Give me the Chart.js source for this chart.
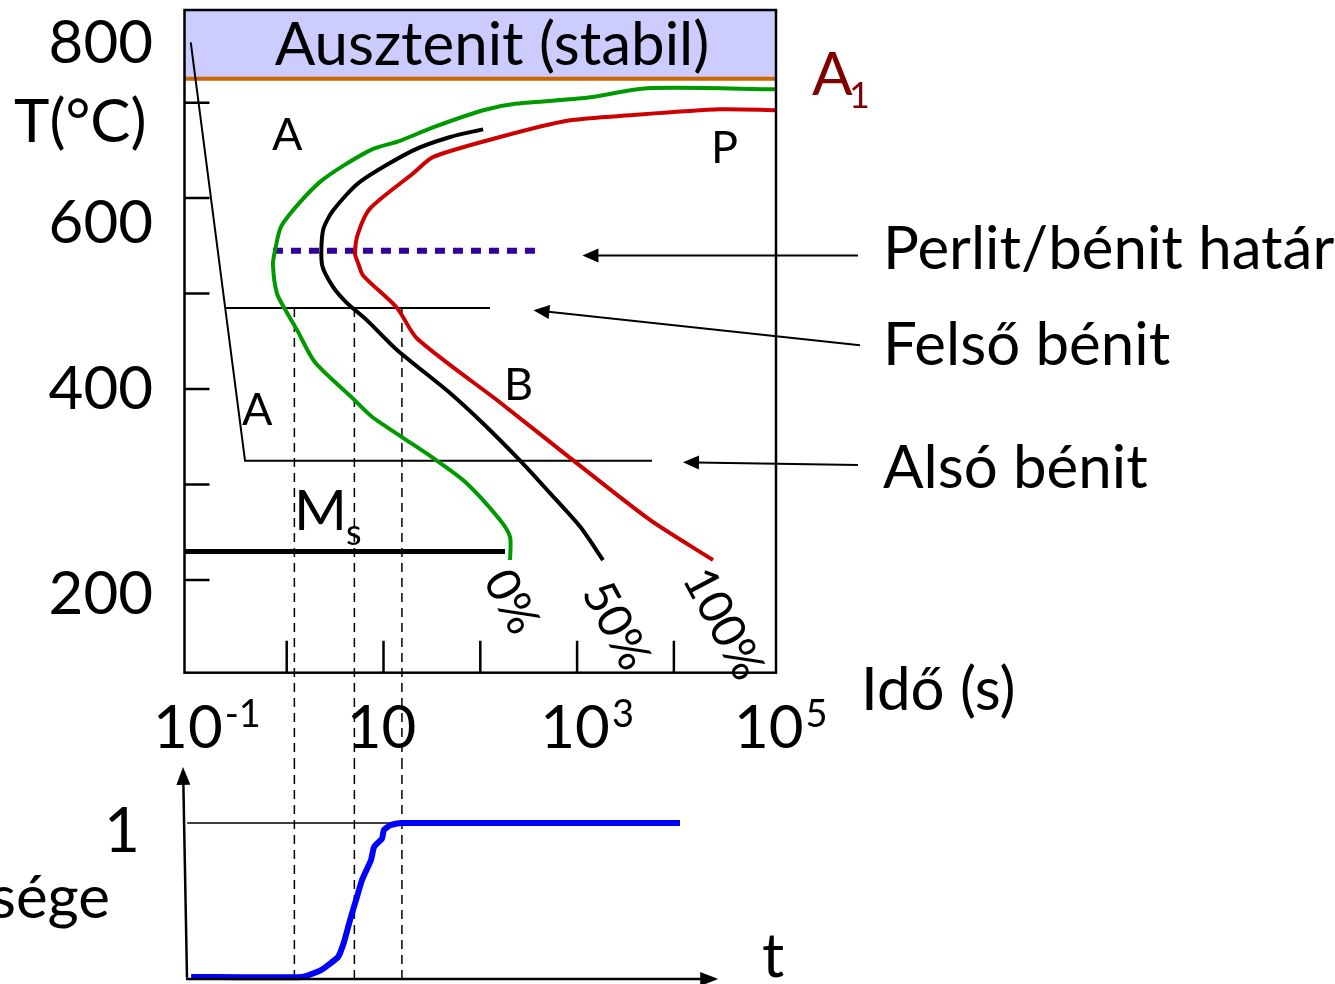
<!DOCTYPE html>
<html lang="hu">
<head>
<meta charset="utf-8">
<title>Izoterm átalakulási diagram</title>
<script src="https://cdn.jsdelivr.net/npm/chart.js@4.4.1/dist/chart.umd.min.js"></script>
<style>
  body { margin: 0; background: #fff; }
  #lap { position: relative; width: 1335px; height: 984px; overflow: hidden; }
  #lap canvas { position: absolute; left: 0; }
</style>
</head>
<body>
<div id="lap">
  <canvas id="tttDiagram" width="1335" height="760" style="top:0"></canvas>
  <canvas id="hanyadDiagram" width="1335" height="224" style="top:760px"></canvas>
</div>
<script>
// Átalakulási görbék: idő (s) és hőmérséklet (°C)
const ido0 = [115000, 5300, 1260, 239, 107, 32.4, 14.8, 7.24, 2.21, 0.893, 0.757, 0.721, 0.794, 1.007, 1.276, 1.96, 4.84, 7.60, 15.9, 32.4, 69.5, 160, 203, 203];
const hom0 = [714, 715, 705, 699, 692, 674, 660, 650, 617, 572, 545, 530, 500, 480, 462, 428, 390, 371, 349, 328, 303, 263, 245, 221];

const ido50 = [107, 48.9, 20.3, 5.71, 3.01, 2.37, 2.32, 3.01, 4.20, 6.76, 13.8, 48.6, 107, 276, 525, 1072, 1854];
const hom50 = [672, 664, 650, 617, 587, 566, 530, 507, 490, 472, 441, 396, 364, 322, 291, 256, 221];

const ido100 = [115000, 29900, 3784, 787, 160, 32.4, 20.3, 7.24, 5.46, 5.08, 5.46, 6.15, 13.8, 22.2, 160, 845, 5662, 25350];
const hom100 = [692, 693, 687, 681, 664, 643, 626, 589, 563, 542, 532, 519, 485, 453, 386, 328, 263, 221];

// Jellemző hőmérsékletek (°C)
const A1 = 725;
const Ms = 230;
const perlitBenitHatar = 545;
const felsoBenitHom = 485;

// Hűtés, majd izoterm hőntartás az alsó bénit tartományában
const hutesIdo = [0.102, 0.371, 5940];
const hutesHom = [763, 325, 325];

// Vízszintes vonalak időtartománya (s)
const felsoBenitIdo = [0.236, 126];
const msIdo = [0.081, 180];
const hatarIdo = [0.721, 368];

// Átalakulás kezdete, 50%-a és vége 485 °C-on (s)
const atalakulasIdok = [1.2, 5.0, 15.5];

// Átalakult hányad az idő függvényében
const hanyadIdo = [0.103, 1.44, 2.26, 3.39, 3.91, 4.51, 5.32, 6.00, 7.43, 7.98, 9.66, 10.1, 11.9, 15.2, 11560];
const hanyad = [0, 0, 0.045, 0.13, 0.227, 0.37, 0.52, 0.63, 0.76, 0.844, 0.90, 0.955, 0.987, 1, 1];

// Tengelyosztások és feliratok
const osztasHom = [200, 300, 400, 500, 600, 700];
const osztasIdo = [1, 10, 100, 1000, 10000];
const idoCimkek = [0.1, 10, 1000, 100000];
const homCimkek = ['800', '600', '400', '200'];

const xMin = Math.pow(10, -1.056);
const xMax = Math.pow(10, 5.055);
const BETU = 'Lato, "Open Sans", sans-serif';
const betu = m => m + 'px ' + BETU;

function vonal(xs, ys, szin, vastag, extra) {
  return Object.assign({
    data: xs.map((x, i) => ({ x: x, y: ys[i] })),
    borderColor: szin,
    borderWidth: vastag,
    pointRadius: 0,
    fill: false,
    tension: 0
  }, extra || {});
}

function nyil(ctx, x1, y1, x2, y2, hossz, szel) {
  const sz = Math.atan2(y2 - y1, x2 - x1);
  const c = Math.cos(sz), s = Math.sin(sz);
  ctx.beginPath();
  ctx.moveTo(x1, y1);
  ctx.lineTo(x2 - c * hossz * 0.8, y2 - s * hossz * 0.8);
  ctx.stroke();
  ctx.beginPath();
  ctx.moveTo(x2, y2);
  ctx.lineTo(x2 - c * hossz + s * szel, y2 - s * hossz - c * szel);
  ctx.lineTo(x2 - c * hossz - s * szel, y2 - s * hossz + c * szel);
  ctx.closePath();
  ctx.fill();
}

function szoveg(ctx, t, x, y, meret, szin, igazit) {
  ctx.font = betu(meret);
  ctx.fillStyle = szin || '#000';
  ctx.textAlign = igazit || 'left';
  ctx.textBaseline = 'alphabetic';
  ctx.fillText(t, x, y);
}

// Nyilak a jobb oldali magyarázatokhoz: [idő, hőmérséklet]
const magyarazatok = [
  { szoveg: 'Perlit/bénit határ', tol: [798000, 540], ig: [1135, 540], y: 269 },
  { szoveg: 'Felső bénit', tol: [837000, 446], ig: [354, 482.6], y: 365 },
  { szoveg: 'Alsó bénit', tol: [798000, 320.5], ig: [12420, 323.4], y: 488 }
];

// Keret, osztások és feliratok a felső diagramon
const tttFeliratok = {
  id: 'tttFeliratok',
  afterDraw(chart) {
    const { ctx, chartArea: a, scales: { x, y } } = chart;
    ctx.save();
    ctx.strokeStyle = '#000';
    ctx.lineWidth = 2.5;
    ctx.strokeRect(a.left, a.top, a.right - a.left, a.bottom - a.top);
    ctx.beginPath();
    osztasHom.forEach(v => {
      const py = y.getPixelForValue(v);
      ctx.moveTo(a.left, py); ctx.lineTo(a.left + 25, py);
    });
    osztasIdo.forEach(v => {
      const px = x.getPixelForValue(v);
      ctx.moveTo(px, a.bottom); ctx.lineTo(px, a.bottom - 32);
    });
    ctx.stroke();

    // hőmérséklet-tengely
    const homCimkeY = [63, 243, 409, 614];
    homCimkek.forEach((c, i) => szoveg(ctx, c, 153, homCimkeY[i], 60, '#000', 'right'));
    szoveg(ctx, 'T(°C)', 14, 142, 60);

    // időtengely: 10 hatványai
    idoCimkek.forEach(v => {
      const px = x.getPixelForValue(v);
      const kitevo = Math.round(Math.log10(v));
      ctx.font = betu(60);
      const w = ctx.measureText('10').width;
      szoveg(ctx, '10', px - 2, 748, 60, '#000', 'center');
      if (kitevo !== 1) szoveg(ctx, String(kitevo), px + w / 2, 727, 38);
    });
    szoveg(ctx, 'Idő (s)', 861, 710, 60);

    // tartományok
    szoveg(ctx, 'Ausztenit (stabil)', 492, 65, 60, '#000', 'center');
    szoveg(ctx, 'A', 812, 95, 60, '#800000');
    szoveg(ctx, '1', 849, 108, 36, '#800000');
    szoveg(ctx, 'A', 272, 150, 45);
    szoveg(ctx, 'P', 711, 163, 45);
    szoveg(ctx, 'B', 504, 400, 45);
    szoveg(ctx, 'A', 242, 425, 45);
    szoveg(ctx, 'M', 294, 530, 57);
    szoveg(ctx, 's', 346, 545, 36);

    // görbék jelölése
    [['0%', 511, 602], ['50%', 616, 626], ['100%', 723, 624]].forEach(([t, px, py]) => {
      ctx.save();
      ctx.translate(px, py);
      ctx.rotate(62 * Math.PI / 180);
      ctx.font = betu(47);
      ctx.fillStyle = '#000';
      ctx.textAlign = 'center';
      ctx.textBaseline = 'middle';
      ctx.fillText(t, 0, 0);
      ctx.restore();
    });

    // magyarázó nyilak
    ctx.lineWidth = 2;
    ctx.fillStyle = '#000';
    magyarazatok.forEach(m => {
      const x1 = x.getPixelForValue(m.tol[0]), y1 = y.getPixelForValue(m.tol[1]);
      const x2 = x.getPixelForValue(m.ig[0]), y2 = y.getPixelForValue(m.ig[1]);
      nyil(ctx, x1, y1, x2, y2, 16, 7);
      szoveg(ctx, m.szoveg, 883, m.y, 60);
    });
    ctx.restore();
  }
};

// Tengelyek és feliratok az alsó diagramon
const hanyadFeliratok = {
  id: 'hanyadFeliratok',
  afterDraw(chart) {
    const { ctx, scales: { x, y } } = chart;
    ctx.save();
    ctx.strokeStyle = '#000';
    ctx.fillStyle = '#000';
    ctx.lineWidth = 2.5;
    nyil(ctx, x.getPixelForValue(0.0933), y.getPixelForValue(-0.005),
      x.getPixelForValue(0.0849), y.getPixelForValue(1.364), 18, 7);
    nyil(ctx, x.getPixelForValue(0.0912), y.getPixelForValue(-0.013),
      x.getPixelForValue(28700), y.getPixelForValue(-0.013), 18, 7);
    szoveg(ctx, '1', 122, 92, 62, '#000', 'center');
    szoveg(ctx, 'Átalakult mennyisége', 110, 158, 60, '#000', 'right');
    szoveg(ctx, 't', 762, 217, 62);
    ctx.restore();
  }
};

const alapBeallitas = {
  responsive: false,
  animation: false,
  plugins: { legend: { display: false }, tooltip: { enabled: false } }
};

const szaggatott = { borderDash: [9, 6], clip: false };
const sima = { tension: 0.25 };

new Chart(document.getElementById('tttDiagram'), {
  type: 'line',
  data: {
    datasets: [
      vonal(ido0, hom0, '#009900', 4, sima),
      vonal(ido50, hom50, '#000000', 4, sima),
      vonal(ido100, hom100, '#cc0000', 4, sima),
      vonal(hatarIdo, [perlitBenitHatar, perlitBenitHatar], '#330099', 6, { borderDash: [10, 8] }),
      vonal(msIdo, [Ms, Ms], '#000000', 5),
      vonal(felsoBenitIdo, [felsoBenitHom, felsoBenitHom], '#000000', 2),
      vonal(hutesIdo, hutesHom, '#000000', 2),
      ...atalakulasIdok.map(t => vonal([t, t], [felsoBenitHom, 0], '#000000', 1.5, szaggatott)),
      vonal([xMin, xMax], [A1, A1], '#cc6600', 4, { fill: 'end', backgroundColor: '#ccccff', order: 1 })
    ]
  },
  options: Object.assign({}, alapBeallitas, {
    layout: { padding: { left: 184.5, right: 559, top: 10, bottom: 87.3 } },
    scales: {
      x: { type: 'logarithmic', min: xMin, max: xMax, display: false },
      y: { type: 'linear', min: 103, max: 797, display: false }
    }
  }),
  plugins: [tttFeliratok]
});

new Chart(document.getElementById('hanyadDiagram'), {
  type: 'line',
  data: {
    datasets: [
      vonal(hanyadIdo, hanyad, '#0000ff', 6, { tension: 0.15 }),
      vonal([0.0937, 13.5], [1, 1], '#000000', 1.5),
      ...atalakulasIdok.map(t => vonal([t, t], [1.409, -0.0455], '#000000', 1.5, szaggatott))
    ]
  },
  options: Object.assign({}, alapBeallitas, {
    layout: { padding: { left: 184.5, right: 559, top: 0, bottom: 0 } },
    scales: {
      x: { type: 'logarithmic', min: xMin, max: xMax, display: false },
      y: { type: 'linear', min: -0.0455, max: 1.409, display: false }
    }
  }),
  plugins: [hanyadFeliratok]
});
</script>
</body>
</html>
